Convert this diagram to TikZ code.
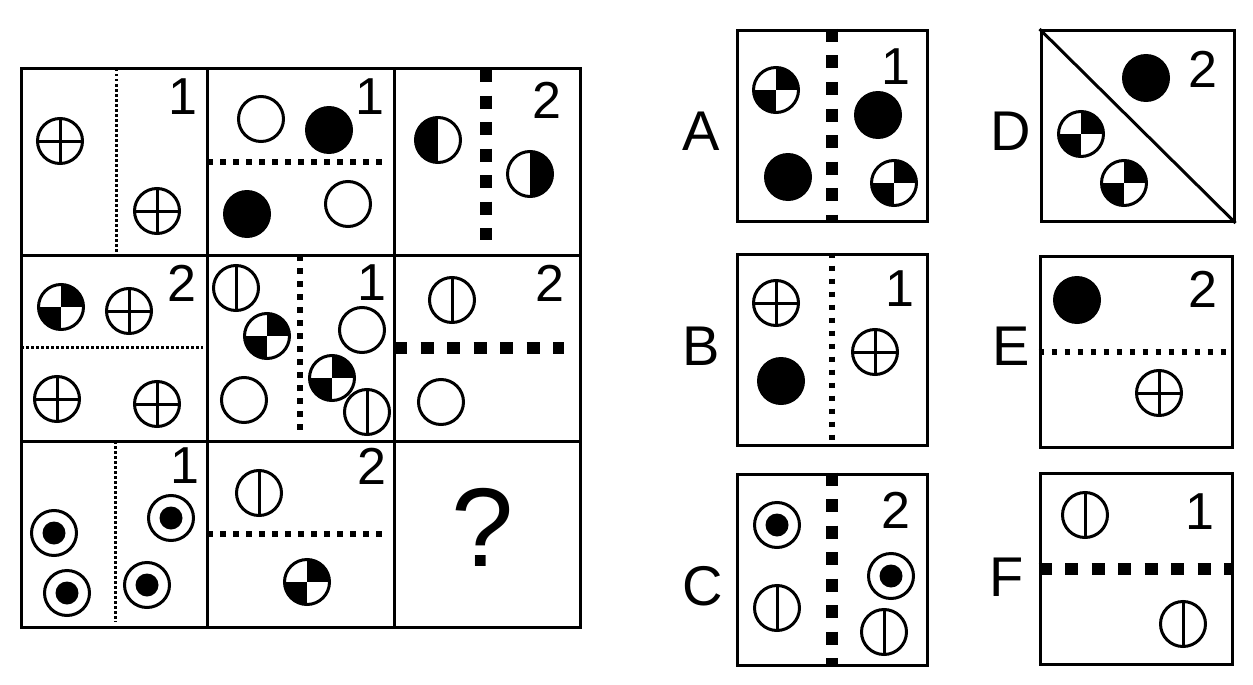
\documentclass[tikz,border=0pt]{standalone}
\usepackage{fontspec}
\setmainfont{Liberation Sans}
\usepackage{tikz}
\usetikzlibrary{positioning}

\begin{document}
\begin{tikzpicture}[x=1pt, y=-1pt,
   frame/.style={line width=3pt},
   glyph/.style={line width=3pt, fill=white},
   optbox/.style={draw, line width=3pt, minimum width=190pt, minimum height=191pt, inner sep=0pt},
   digit/.style={font=\fontsize{52}{52}\selectfont, inner sep=0pt},
   letter/.style={font=\fontsize{56}{56}\selectfont, inner sep=0pt},
   dotline/.style={line width=3pt, dash pattern=on 2.5pt off 2.5pt},
   dashline/.style={line width=5.5pt, dash pattern=on 5.5pt off 7.5pt},
   blockline/.style={line width=12.5pt, dash pattern=on 13pt off 13.5pt},
   opencirc/.pic={\draw[glyph] (0,0) circle (22.5);},
   fullcirc/.pic={\fill (0,0) circle (24);},
   crosscirc/.pic={\draw[glyph] (0,0) circle (22.5);
                   \draw[line width=3pt] (-22.5,0) -- (22.5,0) (0,-22.5) -- (0,22.5);},
   barcirc/.pic={\draw[glyph] (0,0) circle (22.5);
                 \draw[line width=3pt] (0,-22.5) -- (0,22.5);},
   ringdot/.pic={\draw[glyph] (0,0) circle (22.5); \fill (0,0) circle (11.5);},
   quadcirc/.pic={\fill[white] (0,0) circle (22.5);
                  \begin{scope}
                    \clip (0,0) circle (22.5);
                    \fill (0,0) rectangle (25,-25);
                    \fill (0,0) rectangle (-25,25);
                  \end{scope}
                  \draw[line width=3pt] (0,0) circle (22.5);},
   halfleft/.pic={\fill[white] (0,0) circle (22.5);
                  \begin{scope}
                    \clip (0,0) circle (22.5);
                    \fill (-25,-25) rectangle (0,25);
                  \end{scope}
                  \draw[line width=3pt] (0,0) circle (22.5);},
   halfright/.pic={\fill[white] (0,0) circle (22.5);
                   \begin{scope}
                     \clip (0,0) circle (22.5);
                     \fill (0,-25) rectangle (25,25);
                   \end{scope}
                   \draw[line width=3pt] (0,0) circle (22.5);}]

 \useasboundingbox (0,0) rectangle (1253,685);

 % main 3x3 grid
 \draw[frame] (21,69) rectangle (580,627);
 \foreach \gx in {207,394} \draw[frame] (\gx,69) -- (\gx,627);
 \foreach \gy in {255,441} \draw[frame] (21,\gy) -- (580,\gy);

 \draw[dotline] (116,69) -- (116,252);
 \draw[dashline] (207,162) -- (385,162);
 \draw[blockline] (486,69) -- (486,240);
 \draw[dotline] (21,347) -- (203,347);
 \draw[dashline] (300,255) -- (300,432);
 \draw[blockline] (394,348) -- (564,348);
 \draw[dotline] (115,441) -- (115,622);
 \draw[dashline] (207,534) -- (387,534);

 % row 1
 \pic at (60,141) {crosscirc};
 \pic at (157,211) {crosscirc};
 \node[digit] (n11) at (183,97) {1};
 \pic at (261,119) {opencirc};
 \pic at (329,130) {fullcirc};
 \pic at (247,214) {fullcirc};
 \pic at (348,204) {opencirc};
 \node[digit] (n12) at (370,97) {1};
 \pic at (438,140) {halfleft};
 \pic at (530,174) {halfright};
 \node[digit] (n13) at (547,100) {2};

 % row 2
 \pic at (61,307) {quadcirc};
 \pic at (129,311) {crosscirc};
 \pic at (57,399) {crosscirc};
 \pic at (157,404) {crosscirc};
 \node[digit] (n21) at (182,283) {2};
 \pic at (236,288) {barcirc};
 \pic at (267,336) {quadcirc};
 \pic at (244,400) {opencirc};
 \pic at (362,330) {opencirc};
 \pic at (332,378) {quadcirc};
 \pic at (367,412) {barcirc};
 \node[digit] (n22) at (372,283) {1};
 \pic at (452,300) {barcirc};
 \pic at (441,402) {opencirc};
 \node[digit] (n23) at (550,283) {2};

 % row 3
 \pic at (54,533) {ringdot};
 \pic at (67,593) {ringdot};
 \pic at (171,518) {ringdot};
 \pic at (147,585) {ringdot};
 \node[digit] (n31) at (185,466) {1};
 \pic at (259,493) {barcirc};
 \pic at (307,582) {quadcirc};
 \node[digit] (n32) at (372,466) {2};
 \node[font=\fontsize{112}{112}\selectfont, inner sep=0pt] (ask) at (483,527) {?};

 % answer options
 \node[optbox] (optA) at (832,126) {};
 \node[optbox, minimum width=193pt] (optD) at (1137.5,126) {};
 \node[optbox] (optB) at (832,349.5) {};
 \node[optbox, minimum width=192pt] (optE) at (1136,352) {};
 \node[optbox] (optC) at (832,569.5) {};
 \node[optbox, minimum width=192pt] (optF) at (1136,569) {};

 \node[letter] (lblA) at (701,131) {A};
 \node[letter] (lblD) at (1011,131) {D};
 \node[letter] (lblB) at (701,346) {B};
 \node[letter] (lblE) at (1011,346) {E};
 \node[letter] (lblC) at (703,586) {C};
 \node[letter] (lblF) at (1007,577) {F};

 \draw[blockline] (optA.north) -- (optA.south);
 \draw[line width=3pt] (optD.north west) -- (optD.south east);
 \draw[dashline] (optB.north) -- (optB.south);
 \draw[dashline] (optE.west) -- (optE.east);
 \draw[blockline] (optC.north) -- (optC.south);
 \draw[blockline] (optF.west) -- (optF.east);

 \pic at (776,90) {quadcirc};
 \pic at (878,115) {fullcirc};
 \pic at (788,177) {fullcirc};
 \pic at (894,183) {quadcirc};
 \node[digit] (nA) at (896,67) {1};

 \pic at (1146,78) {fullcirc};
 \pic at (1081,134) {quadcirc};
 \pic at (1124,183) {quadcirc};
 \node[digit] (nD) at (1203,69) {2};

 \pic at (776,303) {crosscirc};
 \pic at (781,381) {fullcirc};
 \pic at (875,352) {crosscirc};
 \node[digit] (nB) at (900,289) {1};

 \pic at (1077,300) {fullcirc};
 \pic at (1159,393) {crosscirc};
 \node[digit] (nE) at (1203,289) {2};

 \pic at (777,525) {ringdot};
 \pic at (777,608) {barcirc};
 \pic at (891,576) {ringdot};
 \pic at (884,632) {barcirc};
 \node[digit] (nC) at (896,510) {2};

 \pic at (1085,515) {barcirc};
 \pic at (1183,624) {barcirc};
 \node[digit] (nF) at (1200,512) {1};
\end{tikzpicture}
\end{document}
